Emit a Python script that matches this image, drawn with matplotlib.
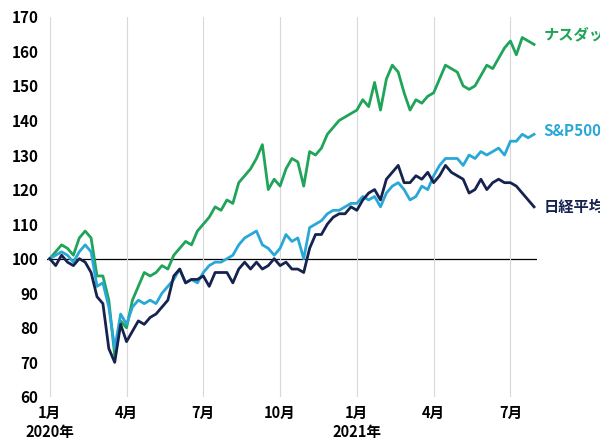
import matplotlib
matplotlib.use("Agg")
import matplotlib.pyplot as plt
import numpy as np

plt.rcParams['font.family'] = ['Noto Sans CJK JP', 'DejaVu Sans']

nasdaq = [100,102,104,103,101,106,108,106,95,95,88,72,82,80,
          88,92,96,95,96,98,97,101,103,105,104,108,110,
          112,115,114,117,116,122,124,126,129,133,120,123,121,
          126,129,128,121,131,130,132,136,138,140,141,142,143,
          146,144,151,143,152,156,154,148,143,146,145,147,148,
          152,156,155,154,150,149,150,153,156,155,158,161,163,
          159,164,163,162]
sp500 = [100,101,102,101,99,102,104,102,92,93,86,74,84,81,
         86,88,87,88,87,90,92,94,97,93,94,93,96,
         98,99,99,100,101,104,106,107,108,104,103,101,103,
         107,105,106,100,109,110,111,113,114,114,115,116,116,
         118,117,118,115,119,121,122,120,117,118,121,120,124,
         127,129,129,129,127,130,129,131,130,131,132,130,134,
         134,136,135,136]
nikkei = [100,98,101,99,98,100,99,96,89,87,74,70,81,76,
          79,82,81,83,84,86,88,95,97,93,94,94,95,
          92,96,96,96,93,97,99,97,99,97,98,100,98,
          99,97,97,96,103,107,107,110,112,113,113,115,114,
          117,119,120,117,123,125,127,122,122,124,123,125,122,
          124,127,125,124,123,119,120,123,120,122,123,122,122,
          121,119,117,115]
tick_weeks = [0, 13, 26, 39, 52, 65, 78]
tick_labels = ['1月\n2020年', '4月', '7月', '10月', '1月\n2021年', '4月', '7月']
names = ['ナスダック', 'S&P500', '日経平均']
colors = ['#1fa45a', '#29a8d8', '#17234f']

x = np.arange(len(nasdaq))
fig = plt.figure(figsize=(6, 4.42), dpi=100)
ax = fig.add_axes([0.078, 0.102, 0.817, 0.86])
ax.set_xlim(-0.5, 82.5)
ax.set_ylim(60, 170)
ax.grid(axis='x', color='#d8d8d8', lw=0.8)
ax.grid(axis='y', visible=False)
ax.axhline(100, color='black', lw=0.9, zorder=1)
for s, c in zip([nasdaq, sp500, nikkei], colors):
    ax.plot(x, s, color=c, lw=2.0, zorder=3)
ax.set_xticks(tick_weeks)
ax.set_xticklabels(tick_labels, fontsize=10.5, fontweight='bold', ha='center', va='top')
ax.set_yticks(range(60, 171, 10))
ax.tick_params(axis='y', labelsize=11, length=0, pad=6)
ax.tick_params(axis='x', length=0, pad=6)
for t in ax.get_yticklabels():
    t.set_fontweight('bold')
for sp in ax.spines.values():
    sp.set_visible(False)
for name, c, yv in zip(names, colors, [165, 137, 115]):
    ax.text(83.6, yv, name, color=c, fontsize=11, fontweight='bold', va='center', clip_on=False)
fig.savefig('out.png', dpi=100)
